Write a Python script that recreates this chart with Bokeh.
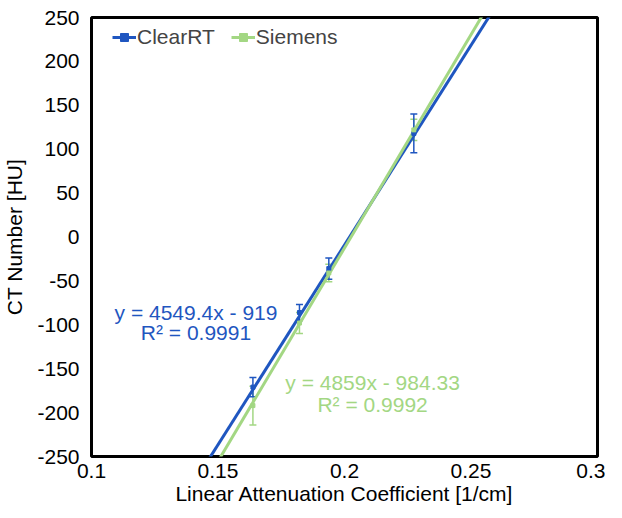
from bokeh.plotting import figure
from bokeh.models import ColumnDataSource, Whisker, Legend, LegendItem, FixedTicker, Label
from bokeh.embed import file_html
from bokeh.resources import INLINE
import numpy as np

# data
mu = [0.1638, 0.1822, 0.1938, 0.2274]
clear_hu = [-171, -86, -36, 118]
clear_err = [11, 9, 12, 22]
siem_hu = [-192, -98, -41, 122]
siem_err = [22, 12, 10, 12]
clear_fit = [4549.4, -919]
siem_fit = [4859, -984.33]
clear_eq = ["y = 4549.4x - 919", "R² = 0.9991"]
siem_eq = ["y = 4859x - 984.33", "R² = 0.9992"]
x_ticks = [0.1, 0.15, 0.2, 0.25, 0.3]
x_labels = ["0.1", "0.15", "0.2", "0.25", "0.3"]
y_ticks = [-250, -200, -150, -100, -50, 0, 50, 100, 150, 200, 250]
y_labels = ["-250", "-200", "-150", "-100", "-50", "0", "50", "100", "150", "200", "250"]

BLUE = "#1F56C0"
GREEN = "#A3D783"
FONT = "Liberation Sans"
FS = "21px"

p = figure(frame_width=506, frame_height=439, output_backend="svg", toolbar_location=None,
           x_range=(0.1, 0.3), y_range=(-250, 250),
           min_border_left=85, min_border_right=8, min_border_top=17, min_border_bottom=10)

p.xgrid.visible = False
p.ygrid.visible = False
p.outline_line_color = "black"
p.outline_line_width = 3
p.outline_line_alpha = 1

for ax in (p.xaxis[0], p.yaxis[0]):
    ax.axis_line_color = None
    ax.major_tick_line_color = None
    ax.minor_tick_line_color = None
    ax.major_label_text_font = FONT
    ax.major_label_text_font_size = FS
    ax.major_label_text_color = "black"
    ax.axis_label_text_font = FONT
    ax.axis_label_text_font_size = FS
    ax.axis_label_text_font_style = "normal"
    ax.axis_label_text_color = "black"

p.xaxis.ticker = FixedTicker(ticks=x_ticks)
p.yaxis.ticker = FixedTicker(ticks=y_ticks)
p.xaxis.major_label_overrides = dict(zip(x_ticks, x_labels))
p.yaxis.major_label_overrides = dict(zip(y_ticks, y_labels))
p.xaxis.axis_label = "Linear Attenuation Coefficient [1/cm]"
p.yaxis.axis_label = "CT Number [HU]"
p.xaxis.major_label_standoff = 1
p.yaxis.major_label_standoff = 6
p.xaxis.axis_label_standoff = 1
p.yaxis.axis_label_standoff = 8

xs = np.array([0.1, 0.3])

# trendlines
lb = p.line(xs, clear_fit[0] * xs + clear_fit[1], line_color=BLUE, line_width=3)
lg = p.line(xs, siem_fit[0] * xs + siem_fit[1], line_color=GREEN, line_width=3)

# error bars & markers
src_c = ColumnDataSource(dict(x=mu, y=clear_hu,
                              lo=[a - b for a, b in zip(clear_hu, clear_err)],
                              hi=[a + b for a, b in zip(clear_hu, clear_err)]))
src_s = ColumnDataSource(dict(x=mu, y=siem_hu,
                              lo=[a - b for a, b in zip(siem_hu, siem_err)],
                              hi=[a + b for a, b in zip(siem_hu, siem_err)]))

for src, col in ((src_s, GREEN), (src_c, BLUE)):
    w = Whisker(source=src, base="x", lower="lo", upper="hi", line_color=col, line_width=1.5)
    w.upper_head.line_color = col
    w.lower_head.line_color = col
    w.upper_head.size = 7
    w.lower_head.size = 7
    w.upper_head.line_width = 1.5
    w.lower_head.line_width = 1.5
    p.add_layout(w)

mb = p.scatter("x", "y", source=src_c, marker="square", size=4, color=BLUE)
mg = p.scatter("x", "y", source=src_s, marker="square", size=4, color=GREEN)

legend = Legend(items=[LegendItem(label="ClearRT", renderers=[lb, mb]),
                       LegendItem(label="Siemens", renderers=[lg, mg])],
                location=(21, 407), orientation="horizontal",
                label_text_font=FONT, label_text_font_size=FS,
                border_line_color=None, background_fill_alpha=0,
                glyph_width=24, label_standoff=1, spacing=16,
                padding=2, margin=0)
p.add_layout(legend)

# equations
for i, t in enumerate(clear_eq):
    p.add_layout(Label(x=0.1413, y=[-86, -109][i], text=t, text_align="center",
                       text_baseline="middle", text_color=BLUE,
                       text_font=FONT, text_font_size=FS))
for i, t in enumerate(siem_eq):
    p.add_layout(Label(x=0.2111, y=[-166, -191][i], text=t, text_align="center",
                       text_baseline="middle", text_color=GREEN,
                       text_font=FONT, text_font_size=FS))

open("out.html", "w").write(file_html(p, INLINE))
